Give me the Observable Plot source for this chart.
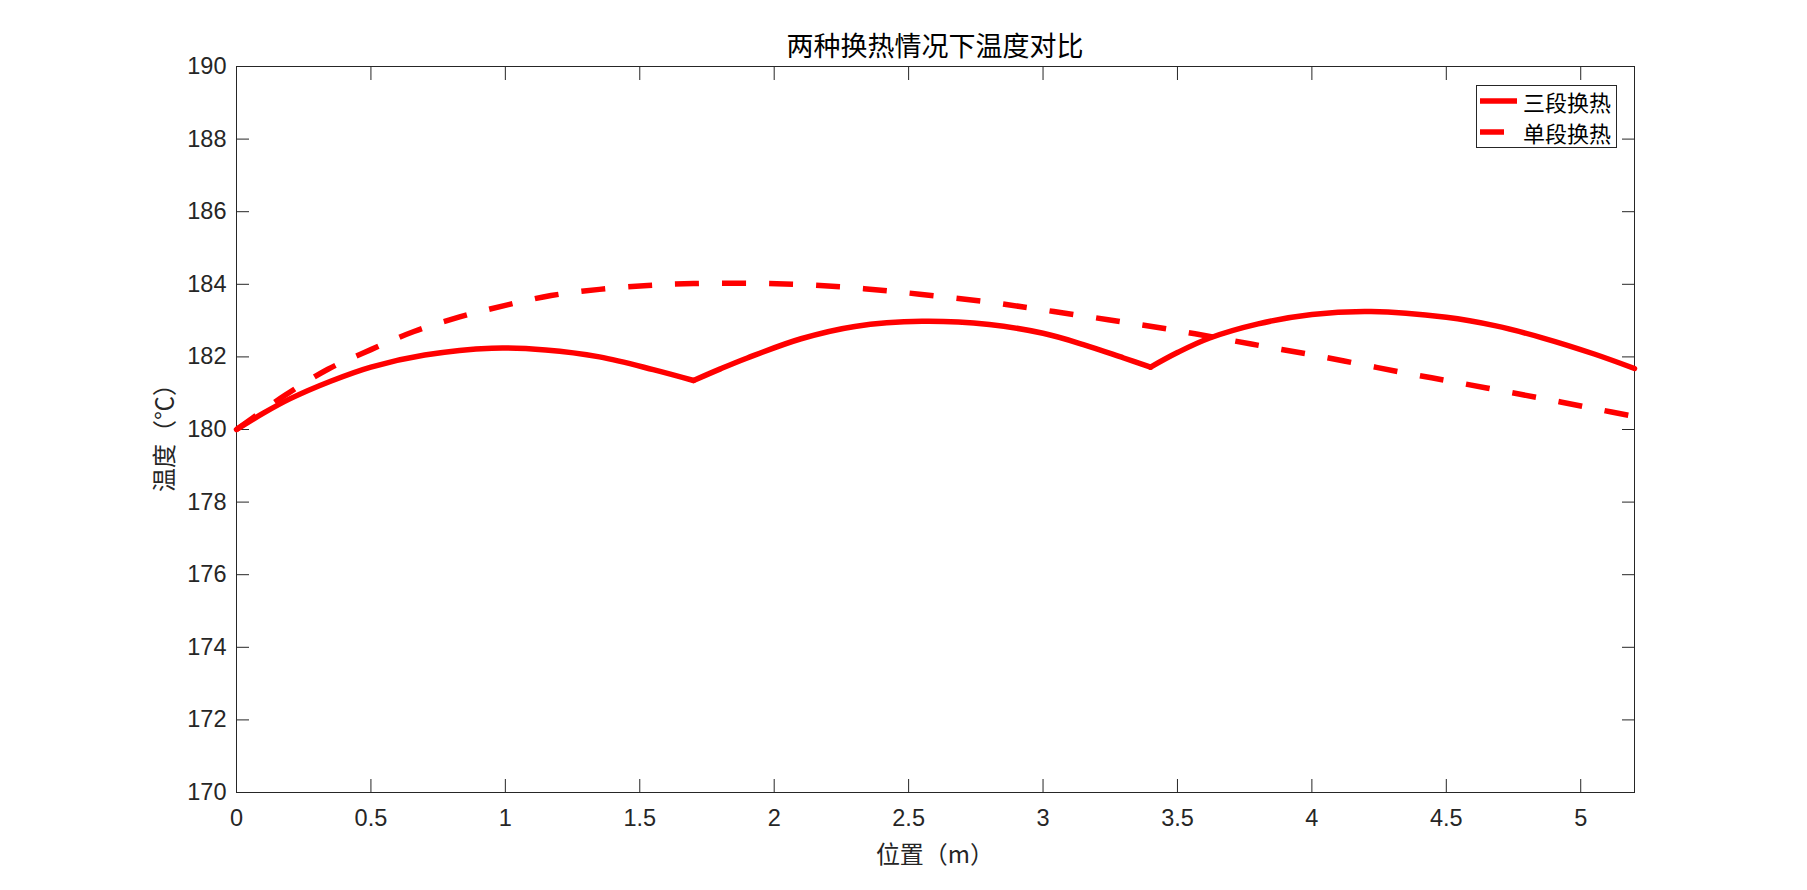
<!DOCTYPE html>
<html>
<head>
<meta charset="utf-8">
<script src="https://cdn.jsdelivr.net/npm/d3@7"></script>
<script src="https://cdn.jsdelivr.net/npm/@observablehq/plot@0.6"></script>
<style>
  html, body { margin: 0; padding: 0; background: #fff; }
  body { width: 1807px; height: 890px; position: relative; overflow: hidden; }
  .cjk { font-family: "Noto Sans CJK SC", "Noto Sans", sans-serif; }
  #chart { position: absolute; left: 0; top: 0; }
  #title { position: absolute; left: 236px; width: 1398px; top: 30px; height: 30px; line-height: 30px; text-align: center; font-size: 27px; color: #000; }
  #xlabel { position: absolute; left: 236px; width: 1398px; top: 838px; height: 30px; line-height: 30px; text-align: center; font-size: 24px; color: #262626; }
  #ylabel { position: absolute; left: 63px; top: 417px; width: 200px; height: 30px; line-height: 30px; text-align: center; font-size: 24px; color: #262626; transform: rotate(-90deg); }
  #legend { position: absolute; left: 1476px; top: 85px; width: 141px; height: 63px; box-sizing: border-box; border: 1px solid #262626; background: #fff; }
  #legend svg { position: absolute; left: 0; top: 0; }
  #legend .lt { position: absolute; left: 46px; height: 30px; line-height: 30px; font-size: 22px; color: #000; white-space: nowrap; }
</style>
</head>
<body>
<div id="chart"></div>
<div id="title" class="cjk">两种换热情况下温度对比</div>
<div id="xlabel" class="cjk">位置（m）</div>
<div id="ylabel" class="cjk">温度（℃）</div>
<div id="legend">
  <svg width="139" height="61">
    <line x1="3" y1="15" x2="40" y2="15" stroke="#ff0000" stroke-width="5.5"></line>
    <line x1="3" y1="46" x2="40" y2="46" stroke="#ff0000" stroke-width="5.5" stroke-dasharray="24,23"></line>
  </svg>
  <div class="lt cjk" style="top:0px;">三段换热</div>
  <div class="lt cjk" style="top:31px;">单段换热</div>
</div>
<script>
// ---- data ----
const seriesNames = ["三段换热", "单段换热"];

// 三段换热 (solid), three segments meeting at kinks x = 1.7 and x = 3.4
const seg1X = [0, 0.1, 0.2, 0.35, 0.5, 0.7, 0.95, 1.15, 1.35, 1.55, 1.7];
const seg1Y = [180, 180.45, 180.85, 181.33, 181.72, 182.05, 182.24, 182.19, 182.0, 181.65, 181.35];
const seg2X = [1.7, 1.8, 1.9, 2.1, 2.3, 2.55, 2.8, 3.0, 3.15, 3.3, 3.4];
const seg2Y = [181.35, 181.67, 181.97, 182.5, 182.84, 182.98, 182.89, 182.65, 182.34, 181.97, 181.72];
const seg3X = [3.4, 3.5, 3.62, 3.8, 4.0, 4.22, 4.5, 4.68, 4.86, 5.05, 5.2];
const seg3Y = [181.72, 182.12, 182.52, 182.91, 183.17, 183.25, 183.09, 182.86, 182.52, 182.08, 181.68];

// 单段换热 (dashed)
const singleX = [0, 0.1, 0.18, 0.34, 0.5, 0.66, 0.83, 1.0, 1.17, 1.35, 1.53, 1.7, 1.89, 2.07, 2.25, 2.42, 2.6, 2.78, 2.95, 3.13, 3.3, 3.47, 3.66, 3.83, 4.0, 4.18, 4.36, 4.53, 4.71, 4.89, 5.06, 5.2];
const singleY = [180, 180.53, 180.94, 181.66, 182.2, 182.7, 183.1, 183.42, 183.69, 183.86, 183.97, 184.02, 184.03, 184.0, 183.93, 183.82, 183.68, 183.53, 183.35, 183.15, 182.96, 182.76, 182.51, 182.28, 182.06, 181.8, 181.54, 181.31, 181.06, 180.81, 180.56, 180.36];

const xTicks = [0, 0.5, 1, 1.5, 2, 2.5, 3, 3.5, 4, 4.5, 5];
const yTicks = [170, 172, 174, 176, 178, 180, 182, 184, 186, 188, 190];
const xDomain = [0, 5.2];
const yDomain = [170, 190];

// ---- tables ----
const solidRows = [
  ...seg1X.map((x, i) => ({x, y: seg1Y[i], seg: 1})),
  ...seg2X.map((x, i) => ({x, y: seg2Y[i], seg: 2})),
  ...seg3X.map((x, i) => ({x, y: seg3Y[i], seg: 3}))
];
const singleRows = singleX.map((x, i) => ({x, y: singleY[i]}));

const axisColor = "#262626";

const chart = Plot.plot({
  width: 1807,
  height: 890,
  marginLeft: 236,
  marginRight: 173,
  marginTop: 66,
  marginBottom: 98,
  x: {domain: xDomain},
  y: {domain: yDomain},
  style: {
    fontFamily: "'Liberation Sans', Arial, Helvetica, sans-serif",
    fontSize: "23.5px",
    color: axisColor,
    background: "#fff"
  },
  marks: [
    Plot.frame({stroke: axisColor, strokeWidth: 1}),
    Plot.axisX({anchor: "bottom", ticks: xTicks, tickSize: -13, tickPadding: 30, tickFormat: d => String(d), label: null, stroke: axisColor}),
    Plot.axisX({anchor: "top", ticks: xTicks, tickSize: -13, tickFormat: () => "", label: null, stroke: axisColor}),
    Plot.axisY({anchor: "left", ticks: yTicks, tickSize: -13, tickPadding: 23, tickFormat: d => String(d), label: null, stroke: axisColor}),
    Plot.axisY({anchor: "right", ticks: yTicks, tickSize: -13, tickFormat: () => "", label: null, stroke: axisColor}),
    Plot.line(solidRows, {x: "x", y: "y", z: "seg", stroke: "#ff0000", strokeWidth: 5.5, curve: "catmull-rom", strokeLinejoin: "round"}),
    Plot.line(singleRows, {x: "x", y: "y", stroke: "#ff0000", strokeWidth: 5.5, curve: "catmull-rom", strokeDasharray: "24,23", strokeLinecap: "butt"})
  ]
});
document.getElementById("chart").appendChild(chart);
</script>
</body>
</html>
